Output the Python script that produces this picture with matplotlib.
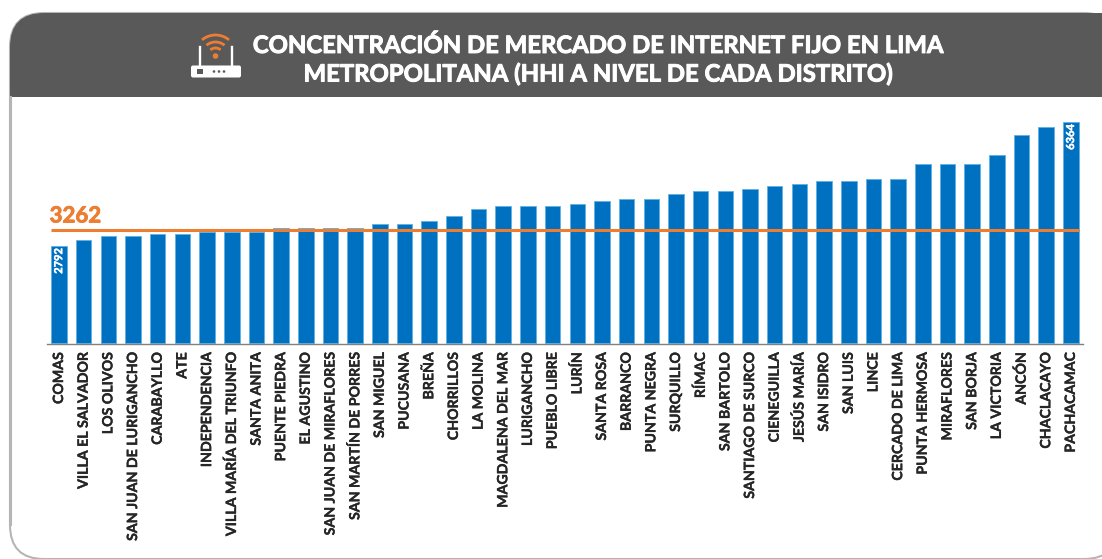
import matplotlib
matplotlib.use('Agg')
import matplotlib.pyplot as plt
import matplotlib.patheffects as pe
from matplotlib.patches import FancyBboxPatch, Rectangle, Arc, Circle

distritos = ['COMAS', 'VILLA EL SALVADOR', 'LOS OLIVOS', 'SAN JUAN DE LURIGANCHO', 'CARABAYLLO', 'ATE',
             'INDEPENDENCIA', 'VILLA MARÍA DEL TRIUNFO', 'SANTA ANITA', 'PUENTE PIEDRA', 'EL AGUSTINO',
             'SAN JUAN DE MIRAFLORES', 'SAN MARTÍN DE PORRES', 'SAN MIGUEL', 'PUCUSANA', 'BREÑA', 'CHORRILLOS',
             'LA MOLINA', 'MAGDALENA DEL MAR', 'LURIGANCHO', 'PUEBLO LIBRE', 'LURÍN', 'SANTA ROSA', 'BARRANCO',
             'PUNTA NEGRA', 'SURQUILLO', 'RÍMAC', 'SAN BARTOLO', 'SANTIAGO DE SURCO', 'CIENEGUILLA', 'JESÚS MARÍA',
             'SAN ISIDRO', 'SAN LUIS', 'LINCE', 'CERCADO DE LIMA', 'PUNTA HERMOSA', 'MIRAFLORES', 'SAN BORJA',
             'LA VICTORIA', 'ANCÓN', 'CHACLACAYO', 'PACHACAMAC']
hhi = [2792, 2958, 3087, 3087, 3159, 3159, 3217, 3217, 3217, 3304, 3304, 3304, 3304, 3433, 3433, 3520, 3664,
       3865, 3938, 3938, 3938, 4010, 4082, 4154, 4154, 4298, 4370, 4370, 4442, 4514, 4586, 4658, 4658, 4730,
       4730, 5162, 5162, 5162, 5436, 6012, 6229, 6364]
promedio = 3262
titulo = 'CONCENTRACIÓN DE MERCADO DE INTERNET FIJO EN LIMA\nMETROPOLITANA (HHI A NIVEL DE CADA DISTRITO)'

W, H = 1102, 559
AZUL = '#0070c0'
NARANJA = '#ed7d31'
GRIS = '#595959'

plt.rcParams['font.family'] = ['Lato', 'DejaVu Sans']
plt.rcParams['text.hinting'] = 'none'
fig = plt.figure(figsize=(W / 100, H / 100), dpi=100)

# capa de fondo en pixeles: marco, cabecera e icono
bg = fig.add_axes([0, 0, 1, 1])
bg.set_xlim(0, W)
bg.set_ylim(H, 0)
bg.axis('off')
marco = FancyBboxPatch((10, 13), 1108, 546, boxstyle='round,pad=0,rounding_size=34',
                       fc='white', ec='#b5b5b5', lw=1.5)
bg.add_patch(marco)
cab = FancyBboxPatch((10, 13), 1130, 120, boxstyle='round,pad=0,rounding_size=34', fc=GRIS, ec='none')
bg.add_patch(cab)
bg.add_patch(Rectangle((11, 97), 1110, 40, fc='white', ec='none'))
bg.plot([10.5, 10.5], [97, 525], color='#b5b5b5', lw=1.5)

# router
bg.add_patch(FancyBboxPatch((191, 65.5), 50, 12, boxstyle='round,pad=0,rounding_size=2', fc='white', ec='none'))
bg.plot([199.5, 199.5], [47, 66], color='white', lw=1.7)
bg.plot([232, 232], [47, 66], color='white', lw=1.7)
bg.add_patch(Rectangle((197, 69), 5.5, 5, fc=GRIS, ec='none'))
for xp in [214, 219, 224]:
    bg.add_patch(Circle((xp, 71.5), 1.3, fc=GRIS, ec='none'))
bg.add_patch(Circle((215.5, 56), 2.8, fc=NARANJA, ec='none'))
for d in [16, 28, 42]:
    bg.add_patch(Arc((215.5, 56), d, d, theta1=230, theta2=310, color=NARANJA, lw=2))

fig.text(598 / W, 1 - 60 / H, titulo, color='white', fontsize=17.2, fontweight='bold', ha='center',
         va='center', linespacing=1.32, path_effects=[pe.withStroke(linewidth=0.7, foreground='white')])

# grafico de barras
x0, y_base, y_top = 40, 344, 100
ax = fig.add_axes([x0 / W, 1 - y_base / H, (1090 - x0) / W, (y_base - y_top) / H])
ax.patch.set_alpha(0)
posiciones = list(range(len(distritos)))
ax.bar(posiciones, hhi, width=0.63, color=AZUL, edgecolor='#5fb0e6', linewidth=0.6)
ax.set_ylim(-25, -25 + (y_base - y_top) / 0.0347)
ax.set_xlim(-19 / 24.68, -19 / 24.68 + (1090 - x0) / 24.68)
ax.hlines(promedio, -0.32, len(distritos) - 1 + 0.32, color=NARANJA, lw=2.2, zorder=4)
ax.text(-0.38, promedio + 110, str(promedio), color=NARANJA, fontsize=16, fontweight='bold', ha='left', va='bottom',
        path_effects=[pe.withStroke(linewidth=0.6, foreground=NARANJA)])

for i in [0, len(distritos) - 1]:
    ax.text(i, hhi[i] - 50, str(hhi[i]), color='white', fontsize=8, fontweight='bold', rotation=90,
            ha='center', va='top', zorder=5,
            path_effects=[pe.withStroke(linewidth=0.3, foreground='white')])

ax.set_xticks(posiciones)
ax.set_xticklabels(distritos, rotation=90, fontsize=10.2, fontweight='bold', color='#262626',
                   path_effects=[pe.withStroke(linewidth=0.25, foreground='#262626')])
ax.tick_params(axis='x', length=0, pad=6)
ax.set_yticks([])
for s in ['top', 'left', 'right']:
    ax.spines[s].set_visible(False)
ax.spines['bottom'].set_color('#808080')
ax.spines['bottom'].set_linewidth(1)
ax.spines['bottom'].set_bounds(-0.5, len(distritos) - 1 + 0.5)

fig.savefig('out.png', dpi=100)
